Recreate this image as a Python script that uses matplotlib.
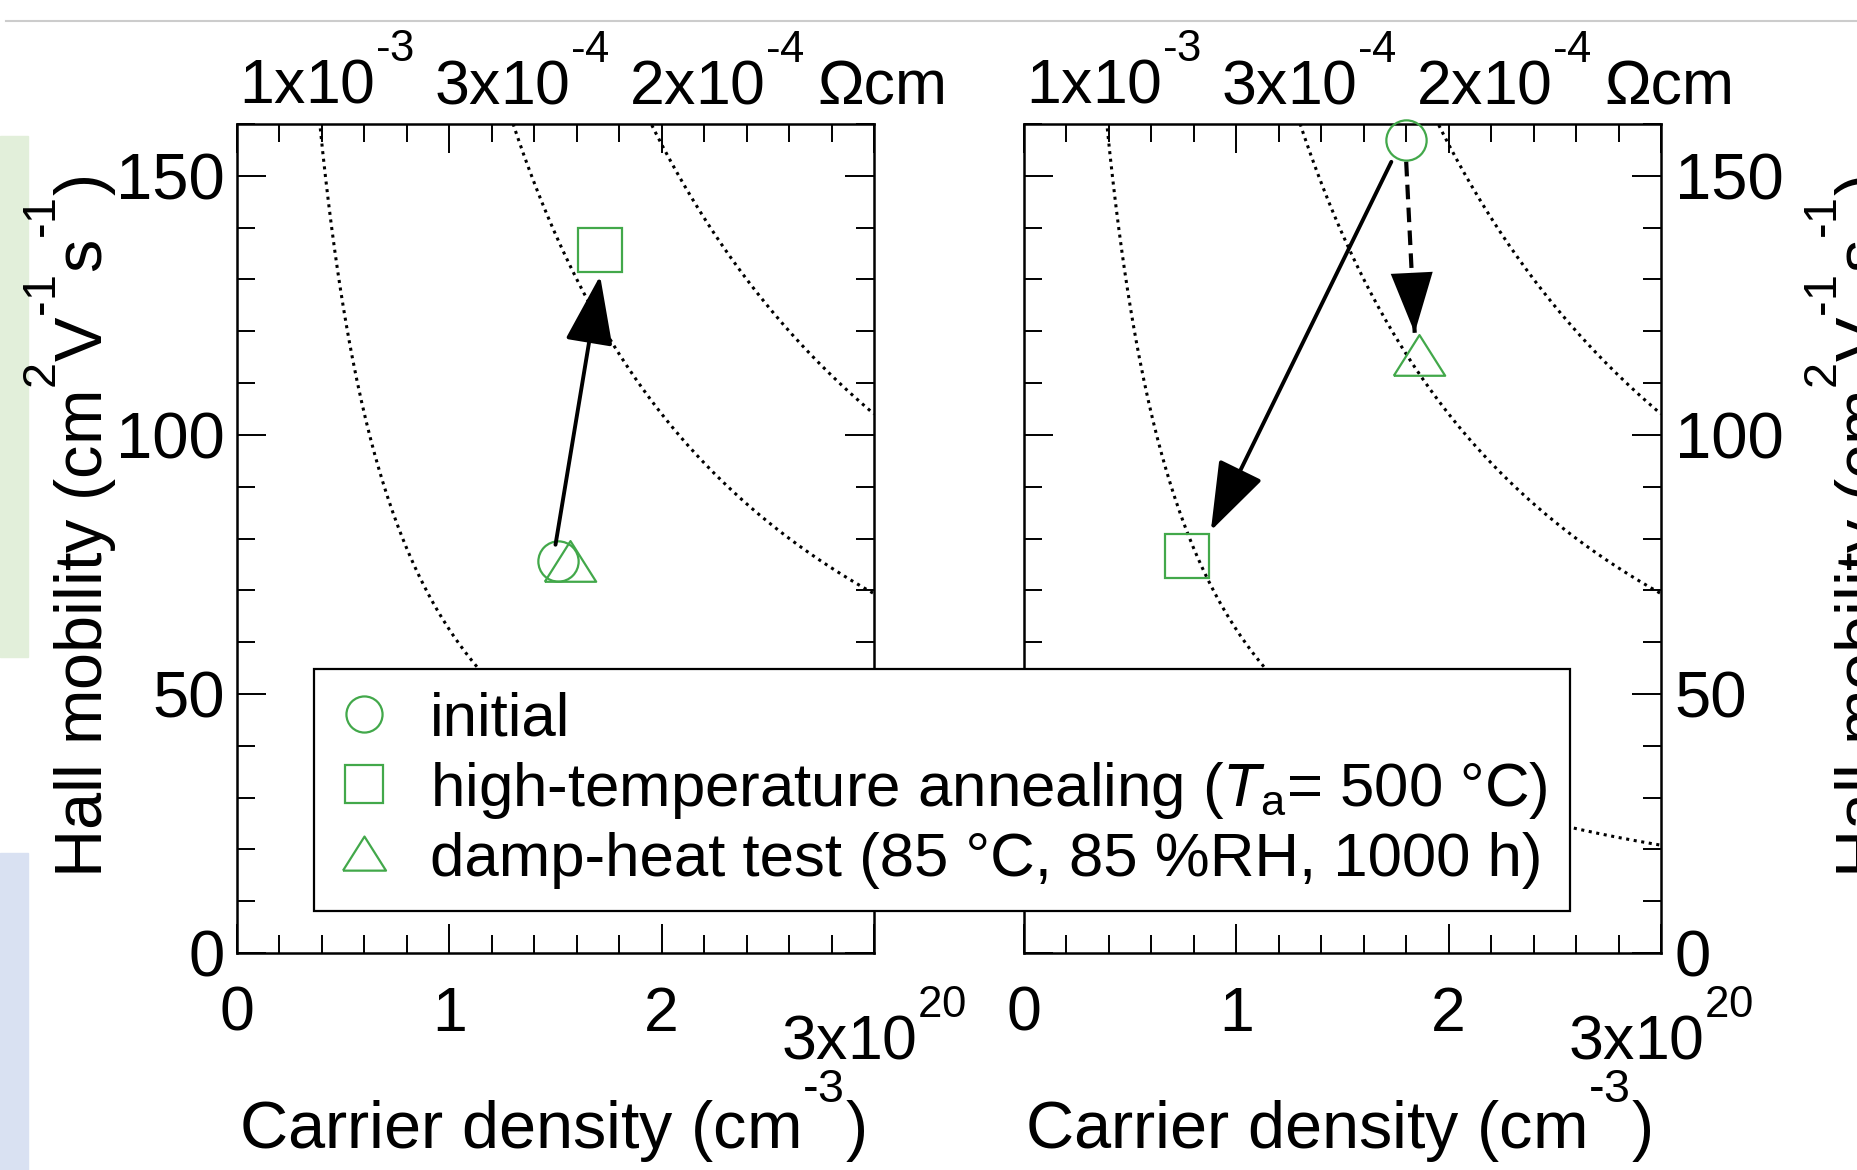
import numpy as np
import matplotlib
matplotlib.use('Agg')
import matplotlib.pyplot as plt
from matplotlib.lines import Line2D
from matplotlib.ticker import MultipleLocator
import matplotlib.patches as mpatches

plt.rcParams['font.family'] = ['Liberation Sans', 'DejaVu Sans']
plt.rcParams['mathtext.fontset'] = 'custom'
plt.rcParams['mathtext.rm'] = 'Liberation Sans'
plt.rcParams['mathtext.it'] = 'Liberation Sans:italic'
plt.rcParams['mathtext.default'] = 'regular'

# superscripts sit higher in the original figure
try:
    import matplotlib._mathtext as _mt
    _mt.FontConstantsBase.sup1 = 1.3
except Exception:
    pass

green = '#42a84a'
q = 1.602e-19

# iso-resistivity lines (Ohm cm) and their labels on top
rho_lines = [1e-3, 3e-4, 2e-4]
rho_labels = ['1x10$^{\\text{-}3}$', '3x10$^{\\text{-}4}$', '2x10$^{\\text{-}4}$', 'Ωcm']
rho_label_x = [0.42, 1.34, 2.26, 3.04]

# carrier density (1e20 cm^-3) and Hall mobility: initial, annealed, damp-heat
left_n = [1.51, 1.71, 1.57]
left_mu = [75.7, 135.7, 75.5]
right_n = [1.80, 0.77, 1.86]
right_mu = [157.0, 76.6, 115.2]

# arrows: (tail, head, linestyle)
left_arrows = [((1.50, 78.8), (1.71, 130.7), '-')]
right_arrows = [((1.73, 152.7), (0.88, 81.5), '-'),
                ((1.80, 152.7), (1.84, 119.7), '--')]

legend_labels = ['initial',
                 'high-temperature annealing ($\\it{T}_{\\rm a}$= 500 °C)',
                 'damp-heat test (85 °C, 85 %RH, 1000 h)']

tri = [(-1.2, -0.9), (1.2, -0.9), (0, 1.0), (-1.2, -0.9)]
markers = ['o', 's', tri]
msizes = [29, 32, 37]

fig = plt.figure(figsize=(18.57, 11.70), dpi=100)
W, H = 1857, 1170

# screenshot leftovers
fig.patches.append(mpatches.Rectangle((0, 1 - 657 / H), 28 / W, (657 - 136) / H,
                                      transform=fig.transFigure, color='#e2efda', zorder=0))
fig.patches.append(mpatches.Rectangle((0, 0), 28 / W, (1170 - 853) / H,
                                      transform=fig.transFigure, color='#d9e1f2', zorder=0))
fig.lines.append(Line2D([6 / W, 1], [1 - 21 / H, 1 - 21 / H], transform=fig.transFigure,
                        color='#cccccc', lw=1.5))

ax1 = fig.add_axes([237 / W, 1 - 953 / H, 637 / W, 829 / H])
ax2 = fig.add_axes([1024 / W, 1 - 953 / H, 637 / W, 829 / H])

head_style = '-|>,head_length=0.6,head_width=0.21'
n_grid = np.linspace(0.2, 3.0, 400)
for ax, ns, mus, arrows in [(ax1, left_n, left_mu, left_arrows),
                            (ax2, right_n, right_mu, right_arrows)]:
    ax.set_xlim(0, 3)
    ax.set_ylim(0, 160)
    for rho in rho_lines:
        mu = 1.0 / (q * n_grid * 1e20 * rho)
        ax.plot(n_grid, mu, color='black', lw=2.2, linestyle=(0, (1, 1.5)), zorder=1)
    for n, mu, m, ms in zip(ns, mus, markers, msizes):
        ax.plot([n], [mu], marker=m, ms=ms, mfc='none', mec=green, mew=1.6,
                linestyle='none', clip_on=False, zorder=3)
    for tail, head, ls in arrows:
        if ls == '-':
            ax.annotate('', xy=head, xytext=tail,
                        arrowprops=dict(arrowstyle=head_style, mutation_scale=72, lw=2.8,
                                        color='black', shrinkA=0, shrinkB=0),
                        zorder=4)
        else:
            ax.plot([tail[0], head[0]], [tail[1], head[1]], color='black', lw=3.0,
                    linestyle=(0, (3.5, 2)), zorder=4)
            near = (head[0] + 0.45 * (tail[0] - head[0]), head[1] + 0.45 * (tail[1] - head[1]))
            ax.annotate('', xy=head, xytext=near,
                        arrowprops=dict(arrowstyle=head_style, mutation_scale=72, lw=0.01,
                                        color='black', shrinkA=0, shrinkB=0),
                        zorder=4)
    ax.xaxis.set_major_locator(MultipleLocator(1))
    ax.xaxis.set_minor_locator(MultipleLocator(0.2))
    ax.yaxis.set_major_locator(MultipleLocator(50))
    ax.yaxis.set_minor_locator(MultipleLocator(10))
    ax.set_xticks([0, 1, 2, 3])
    ax.set_xticklabels(['0', '1', '2', ''])
    ax.tick_params(which='both', direction='in', top=True, bottom=True,
                   left=True, right=True, width=1.4, colors='black')
    ax.tick_params(which='major', length=21)
    ax.tick_params(which='minor', length=13)
    ax.tick_params(axis='x', pad=23, labelsize=45)
    ax.tick_params(axis='y', pad=9, labelsize=47)
    for s in ax.spines.values():
        s.set_linewidth(1.8)
    ax.annotate('3x10$^{20}$', xy=(3, 0), xycoords=('data', 'axes fraction'),
                xytext=(0, -77), textcoords='offset points', ha='center', va='baseline',
                fontsize=45)
    for lab, x in zip(rho_labels, rho_label_x):
        ax.annotate(lab, xy=(x, 1), xycoords=('data', 'axes fraction'),
                    xytext=(0, 14), textcoords='offset points', ha='center',
                    va='baseline', fontsize=45, annotation_clip=False)

ax2.yaxis.tick_right()
ax2.tick_params(axis='y', which='both', left=True, right=True,
                labelleft=False, labelright=True, pad=10)

xlabel = 'Carrier density (cm$^{\\text{-}3}$)'
ylabel = 'Hall mobility (cm$^2$V$^{\\text{-}1}$s$^{\\text{-}1}$)'
fig.text(552 / W, 1 - 1149 / H, xlabel, ha='center', va='baseline', fontsize=48)
fig.text(1338 / W, 1 - 1149 / H, xlabel, ha='center', va='baseline', fontsize=48)
fig.text(71 / W, 1 - 527 / H, ylabel, ha='center', va='center', rotation=90, fontsize=48)
fig.text(1852 / W, 1 - 527 / H, ylabel, ha='center', va='center', rotation=90, fontsize=48)

handles = [Line2D([], [], marker=m, ms=ms, mfc='none', mec=green, mew=1.6, linestyle='none')
           for m, ms in zip(markers, [26, 27, 31])]
leg = fig.legend(handles, legend_labels, loc='upper left',
                 bbox_to_anchor=(314 / W, 1 - 669 / H), bbox_transform=fig.transFigure,
                 frameon=True, fancybox=False, edgecolor='black', framealpha=1,
                 borderaxespad=0, fontsize=44.5, handlelength=0.9, handletextpad=0.62,
                 labelspacing=0.185, borderpad=0.36)
leg.get_frame().set_linewidth(1.6)
leg.set_zorder(10)

fig.savefig('out.png', dpi=100)
